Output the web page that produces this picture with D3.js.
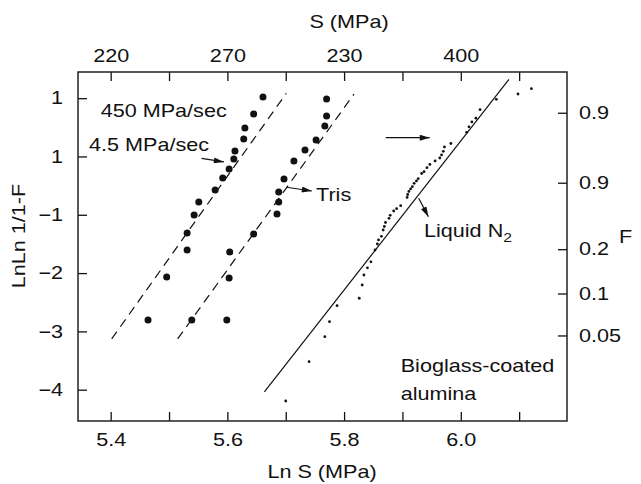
<!DOCTYPE html>
<html><head><meta charset="utf-8">
<script src="https://cdn.jsdelivr.net/npm/d3@7"></script>
<style>
body{margin:0;background:#fff}
text{font-family:"Liberation Sans",Arial,Helvetica,sans-serif;font-size:18px;fill:#111}
</style>
</head><body>
<svg id="c" width="641" height="484"></svg>
<script>
// ---- tick values / labels ----
const xTickValues = [5.4, 5.5, 5.6, 5.7, 5.8, 5.9, 6.0, 6.1];
const xTickLabels = ["5.4", "", "5.6", "", "5.8", "", "6.0", ""];
const topTickLabels = ["220", "", "270", "", "230", "", "400", ""];
const yTickValues = [1, 0, -1, -2, -3, -4];
const yTickLabels = ["1", "1", "\u22121", "\u22122", "\u22123", "\u22124"];
const rightTickValues = [0.75, -0.45, -1.59, -2.35, -3.07];
const rightTickLabels = ["0.9", "0.9", "0.2", "0.1", "0.05"];

// ---- data: [Ln S, LnLn 1/(1-F)] ----
const rate450 = [
  [5.661, 1.021], [5.645, 0.729], [5.630, 0.489], [5.628, 0.300], [5.613, 0.094],
  [5.611, -0.043], [5.603, -0.214], [5.592, -0.369], [5.579, -0.575], [5.551, -0.780],
  [5.543, -1.003], [5.531, -1.312], [5.531, -1.604], [5.496, -2.067], [5.464, -2.804]
];
const tris = [
  [5.770, 0.986], [5.770, 0.695], [5.767, 0.523], [5.752, 0.283], [5.733, 0.111],
  [5.714, -0.077], [5.697, -0.386], [5.688, -0.609], [5.688, -0.780], [5.685, -0.986],
  [5.645, -1.329], [5.604, -1.638], [5.603, -2.084], [5.599, -2.804], [5.539, -2.804]
];
const liquidN2 = [
  [6.121, 1.163], [6.098, 1.072], [6.061, 0.981], [6.033, 0.803], [6.026, 0.657],
  [6.019, 0.592], [6.014, 0.509], [6.010, 0.415], [5.983, 0.223], [5.972, 0.163],
  [5.970, 0.089], [5.967, 0.026], [5.964, -0.026], [5.956, -0.077], [5.947, -0.137],
  [5.942, -0.192], [5.937, -0.261], [5.933, -0.292], [5.927, -0.381], [5.924, -0.420],
  [5.920, -0.460], [5.917, -0.518], [5.914, -0.557], [5.911, -0.600], [5.909, -0.652],
  [5.908, -0.703], [5.897, -0.844], [5.890, -0.895], [5.885, -0.935], [5.879, -1.009],
  [5.877, -1.060], [5.871, -1.132], [5.869, -1.201], [5.867, -1.261], [5.864, -1.369],
  [5.859, -1.432], [5.857, -1.501], [5.853, -1.604], [5.846, -1.806], [5.840, -1.909],
  [5.834, -2.033], [5.831, -2.204], [5.826, -2.432], [5.788, -2.559], [5.775, -2.834],
  [5.767, -3.091], [5.740, -3.520], [5.700, -4.194]
];
const fitRate = [[5.4017, -3.130], [5.701, 1.084]];
const fitTris = [[5.5147, -3.130], [5.8171, 1.072]];
const fitN2 = [[5.6634, -4.039], [6.0825, 1.324]];

// annotation arrows [tail, head] in data units
const arrows = [
  [[5.5558, -0.031], [5.594, -0.094]],
  [[5.7014, -0.528], [5.7447, -0.592]],
  [[5.8714, 0.322], [5.9468, 0.322]],
  [[5.9279, -0.717], [5.9445, -1.033]]
];

// ---- layout ----
const L = 78, R = 567, T = 72, B = 421;
const SX = 1.2;
const svg = d3.select("#c");
const x = d3.scaleLinear().domain([5.344, 6.182]).range([L, R]);
const y = d3.scaleLinear().domain([-4.537, 1.449]).range([B, T]);
const ink = "#111";

svg.append("defs").append("marker")
  .attr("id", "ah").attr("viewBox", "0 0 10 6").attr("refX", 10).attr("refY", 3)
  .attr("markerUnits", "userSpaceOnUse").attr("markerWidth", 11).attr("markerHeight", 6)
  .attr("orient", "auto")
  .append("path").attr("d", "M0,0 L10,3 L0,6 Z").attr("fill", ink);

function styleAxis(g) {
  g.select(".domain").remove();
  g.selectAll(".tick line").attr("stroke", ink).attr("stroke-width", 1.3);
  g.selectAll(".tick text").attr("transform", `scale(${SX},1)`)
    .attr("font-family", null).attr("font-size", null).attr("fill", ink);
}

svg.append("g").attr("transform", `translate(0,${B})`)
  .call(d3.axisBottom(x).tickValues(xTickValues).tickSize(-9).tickPadding(12)
    .tickFormat((d, i) => xTickLabels[i])).call(styleAxis);
svg.append("g").attr("transform", `translate(0,${T})`)
  .call(d3.axisTop(x).tickValues(xTickValues).tickSize(-9).tickPadding(10)
    .tickFormat((d, i) => topTickLabels[i])).call(styleAxis);
svg.append("g").attr("transform", `translate(${L},0)`)
  .call(d3.axisLeft(y).tickValues(yTickValues).tickSize(-9).tickPadding(12.5)
    .tickFormat((d, i) => yTickLabels[i])).call(styleAxis);
svg.append("g").attr("transform", `translate(${R},0)`)
  .call(d3.axisRight(y).tickValues(rightTickValues).tickSize(-9).tickPadding(10)
    .tickFormat((d, i) => rightTickLabels[i])).call(styleAxis);

svg.append("rect").attr("x", L).attr("y", T).attr("width", R - L).attr("height", B - T)
  .attr("fill", "none").attr("stroke", "#222").attr("stroke-width", 1.5);

// fit lines
const line = d3.line().x(d => x(d[0])).y(d => y(d[1]));
[[fitRate, "9,6"], [fitTris, "9,6"], [fitN2, null]].forEach(([d, dash]) => {
  svg.append("path").attr("d", line(d)).attr("fill", "none").attr("stroke", ink)
    .attr("stroke-width", 1.2).attr("stroke-dasharray", dash);
});

// points
svg.append("g").selectAll("circle").data(rate450.concat(tris)).join("circle")
  .attr("cx", d => x(d[0])).attr("cy", d => y(d[1])).attr("r", 3.5).attr("fill", ink);
svg.append("g").selectAll("circle").data(liquidN2).join("circle")
  .attr("cx", d => x(d[0])).attr("cy", d => y(d[1])).attr("r", 1.4).attr("fill", ink);

// arrows
arrows.forEach(a => {
  svg.append("line").attr("x1", x(a[0][0])).attr("y1", y(a[0][1]))
    .attr("x2", x(a[1][0])).attr("y2", y(a[1][1]))
    .attr("stroke", ink).attr("stroke-width", 1.2).attr("marker-end", "url(#ah)");
});

// text helper (stretched horizontally like the original)
function label(px, py, str, anchor, rot) {
  const g = svg.append("g").attr("transform",
    `translate(${px},${py})${rot ? ` rotate(${rot})` : ""} scale(${SX},1)`);
  return g.append("text").attr("text-anchor", anchor || "start").text(str);
}
label(322, 478, "Ln S (MPa)", "middle");
label(349, 28, "S (MPa)", "middle");
label(25, 236, "LnLn 1/1-F", "middle", -90);
label(619, 243, "F", "start");
label(100.7, 117, "450 MPa/sec");
label(89, 150.7, "4.5 MPa/sec");
label(316, 200.7, "Tris");
const ln = label(424, 236.7, "Liquid N");
ln.append("tspan").attr("dy", 5).attr("font-size", "13px").text("2");
label(400.7, 371.7, "Bioglass-coated");
label(400.7, 400, "alumina");
</script>
</body></html>
